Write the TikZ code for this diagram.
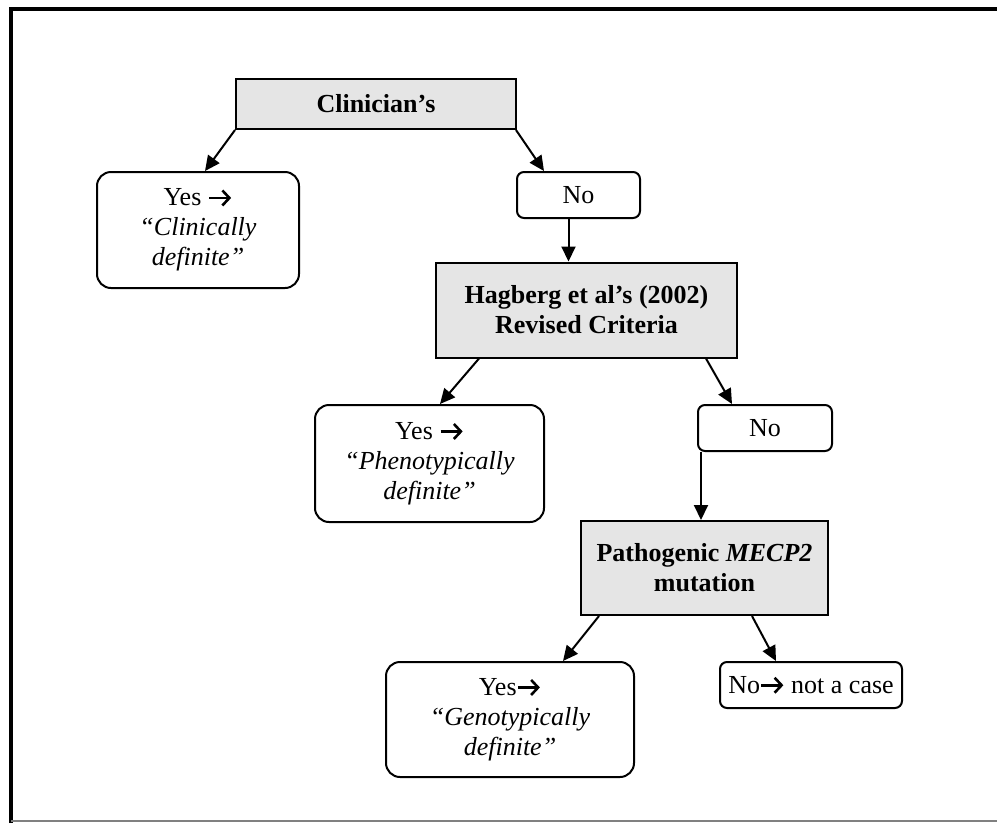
\documentclass[tikz,border=0pt]{standalone}
\usepackage{fontspec}
\setmainfont{Liberation Serif}
\usetikzlibrary{arrows.meta,calc}
\newsavebox\arrbox
\sbox\arrbox{\begin{tikzpicture}[x=1pt,y=1pt]\draw[line width=2.6pt,-{Straight Barb[length=7pt,width=15pt,line width=2.6pt]}] (0,0) -- (22,0);\end{tikzpicture}}
\newcommand{\rar}{\raisebox{-1pt}{\usebox\arrbox}}
\begin{document}
\begin{tikzpicture}[x=1pt,y=-1pt,
  every node/.style={font=\fontsize{26}{30}\selectfont, align=center, inner sep=0pt},
  qbox/.style={draw=black, line width=2pt, fill=black!10, font=\fontsize{26}{30}\selectfont\bfseries},
  abox/.style={draw=black, line width=2pt, fill=white, rounded corners=14pt},
  bbox/.style={draw=black, line width=2pt, fill=white, rounded corners=7pt},
  arr/.style={line width=2pt, -{Triangle[length=15pt,width=14pt]}}]
\useasboundingbox (0,0) rectangle (997,823);
% frame
\draw[line width=4pt] (11,823) -- (11,8.5) -- (997,8.5);
\draw[gray, line width=2pt] (11,821) -- (997,821);
% nodes
\node[qbox, minimum width=280pt, minimum height=50pt] (clin) at (376,104) {Clinician’s};
\node[abox, minimum width=202pt, minimum height=116pt] (yes1) at (198,230) {Yes \rar\\\textit{“Clinically}\\\textit{definite”}};
\node[bbox, minimum width=123pt, minimum height=46pt] (no1) at (578.5,195) {No};
\node[qbox, minimum width=301pt, minimum height=95pt] (hag) at (586.5,310) {Hagberg et al’s (2002)\\Revised Criteria};
\node[abox, minimum width=229pt, minimum height=117pt] (yes2) at (429.5,463.5) {Yes \rar\\\textit{“Phenotypically}\\\textit{definite”}};
\node[bbox, minimum width=134pt, minimum height=46pt] (no2) at (765,428) {No};
\node[qbox, minimum width=247pt, minimum height=94pt] (pat) at (704.5,568) {Pathogenic \textit{MECP2}\\mutation};
\node[abox, minimum width=248pt, minimum height=115pt] (yes3) at (510,719.5) {Yes\rar\\\textit{“Genotypically}\\\textit{definite”}};
\node[bbox, minimum width=182pt, minimum height=46pt] (no3) at (811,685) {No\rar{} not a case};
% connectors
\draw[arr] (clin.south west) -- ([xshift=7pt]yes1.north);
\draw[arr] ([xshift=-1pt]clin.south east) -- ([xshift=28pt]no1.north west);
\draw[arr] ([xshift=-10pt]no1.south) -- ([xshift=-10pt]no1.south |- hag.north);
\draw[arr] ([xshift=44pt]hag.south west) -- ([xshift=10.5pt]yes2.north);
\draw[arr] ([xshift=-32pt]hag.south east) -- ([xshift=35pt]no2.north west);
\draw[arr] ([xshift=4pt]no2.south west) -- ([xshift=4pt]no2.south west |- pat.north);
\draw[arr] ([xshift=19pt]pat.south west) -- ([xshift=53pt]yes3.north);
\draw[arr] ([xshift=47.5pt]pat.south) -- ([xshift=57pt]no3.north west);
\end{tikzpicture}
\end{document}
